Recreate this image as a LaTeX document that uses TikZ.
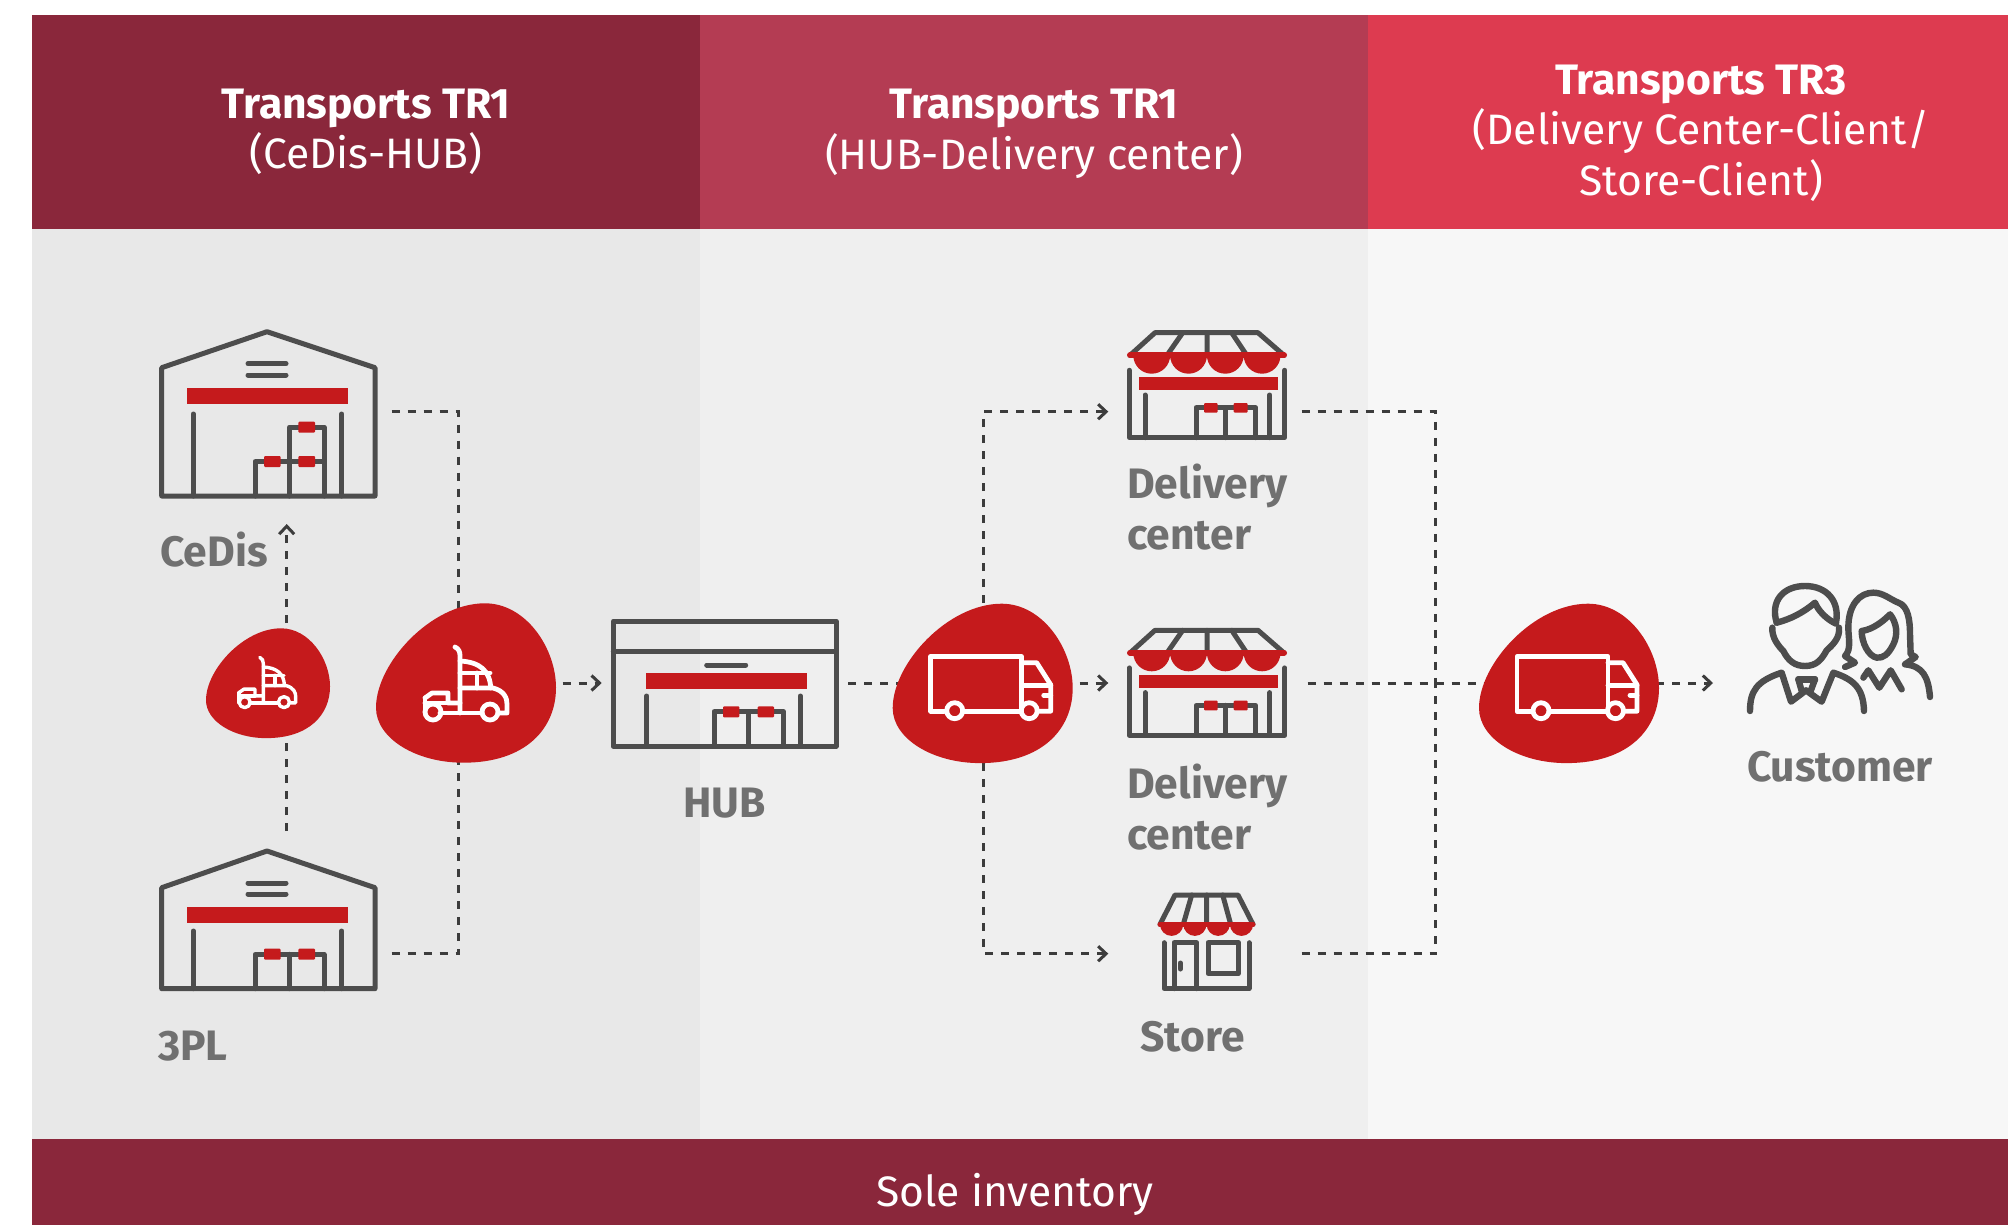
\documentclass[tikz,border=0pt]{standalone}
\usepackage{fontspec}
\setmainfont{Fira Sans}
\definecolor{hA}{HTML}{8A273B}
\definecolor{hB}{HTML}{B43C53}
\definecolor{hC}{HTML}{DD3B50}
\definecolor{bgA}{HTML}{E8E8E8}
\definecolor{bgB}{HTML}{EFEFEF}
\definecolor{bgC}{HTML}{F7F7F7}
\definecolor{redx}{HTML}{C51A1C}
\definecolor{icon}{HTML}{4D4D4D}
\definecolor{lab}{HTML}{707070}
\definecolor{dashc}{HTML}{3C3C3C}
\usetikzlibrary{arrows.meta}
\def\wlw{4.8pt}
\tikzset{
  x=1pt,y=-1pt,
  ic/.style={draw=icon,line width=5pt,line join=round,line cap=round},
  tab/.style={fill=redx,draw=none,rounded corners=1pt},
  wl/.style={draw=white,line width=\wlw,line join=round,line cap=round},
  dl/.style={draw=dashc,line width=3pt,dash pattern=on 8pt off 8pt},
  da/.style={dl,-{Straight Barb[length=8pt,width=15pt,line width=3pt]}},
  hd/.style={text=white,align=center,font=\fontsize{42.6}{50.5}\selectfont,inner sep=0pt},
  lb/.style={text=lab,font=\fontsize{42.6}{51}\selectfont\bfseries,inner sep=0pt,align=left},
}
\newcommand{\blobshape}{%
  (109,0) .. controls (150,0) and (180,45) .. (180,84.4)
  .. controls (180,125) and (150,159.4) .. (87.3,159.4)
  .. controls (40,159.4) and (0,135) .. (0,104.4)
  .. controls (0,60) and (55,0) .. (109,0) -- cycle}
\tikzset{
 truckpic/.pic={
  \draw[wl] (-5,-14) .. controls (-1,-12) and (0,-9) .. (0,-5) -- (0,52);
  \draw[wl] (0,0) .. controls (20,1) and (30,10) .. (30.7,27);
  \draw[wl] (0,12) -- (30,12);
  \draw[wl] (17,12) -- (17,27);
  \draw[wl] (0,27) -- (33,27) .. controls (45,30) and (47,38) .. (47,43) -- (47,52) -- (38,52);
  \draw[wl] (-35,37) -- (-28,32) -- (-12,32) -- (-12,42) -- (0,42);
  \draw[wl] (-35,52) -- (-35,37) (-35,42) -- (-12,42);
  \draw[wl] (-20,52) -- (22,52);
  \draw[wl] (30,51) circle (8);
  \draw[wl] (-27,51) circle (8);
 },
 vanpic/.pic={
  \draw[wl] (13.5,54.5) -- (0,54.5) -- (0,0) -- (91,0) -- (91,53);
  \draw[wl] (91,6) -- (106,6) -- (120,28) -- (120,54.5) -- (108,54.5);
  \draw[wl] (91,28.5) -- (120,28.5);
  \draw[wl] (113,38.5) -- (120,38.5);
  \draw[wl] (32,54.5) -- (89,54.5);
  \draw[wl] (24,54) circle (8);
  \draw[wl] (98.5,54) circle (8);
 },
 shoppic/.pic={
  \draw[ic] (1130,354.3) -- (1155,331.7) -- (1258,331.7) -- (1284,354.3);
  \draw[ic] (1167,354.3) -- (1182.7,331.7) (1207,354.3) -- (1207,331.7) (1246.7,354.3) -- (1231.7,331.7);
  \fill[redx] (1133.3,354.3) arc[start angle=180,end angle=0,radius=18.4] -- cycle;
  \fill[redx] (1170.1,354.3) arc[start angle=180,end angle=0,radius=18.4] -- cycle;
  \fill[redx] (1206.9,354.3) arc[start angle=180,end angle=0,radius=18.4] -- cycle;
  \fill[redx] (1243.7,354.3) arc[start angle=180,end angle=0,radius=18.4] -- cycle;
  \draw[redx,line width=6pt,line cap=round] (1130,354.3) -- (1284,354.3);
  \draw[ic] (1129.3,369.3) -- (1129.3,436.7) -- (1284.7,436.7) -- (1284.7,369.3);
  \draw[ic] (1145,394) -- (1145,436.7) (1269.7,394) -- (1269.7,436.7);
  \draw[ic] (1196,436.7) -- (1196,406.7) -- (1255.7,406.7) -- (1255.7,436.7);
  \draw[ic] (1225.7,406.7) -- (1225.7,436.7);
  \fill[redx] (1138.7,376.3) rectangle (1278.3,389.3);
  \fill[tab] (1204,402) rectangle (1217.7,411.7);
  \fill[tab] (1233.7,402) rectangle (1247.7,411.7);
 },
}
\begin{document}
\begin{tikzpicture}
\useasboundingbox (0,-1) rectangle (2008,1224);
% bands
\fill[white] (0,-1) rectangle (2008,1224);
\fill[bgA] (32,228) rectangle (700,1138);
\fill[bgB] (700,228) rectangle (1368,1138);
\fill[bgC] (1368,228) rectangle (2008,1138);
\fill[hA] (32,14) rectangle (700,228);
\fill[hB] (700,14) rectangle (1368,228);
\fill[hC] (1368,14) rectangle (2008,228);
\fill[hA] (32,1138) rectangle (2008,1224);
% header text
\node[hd] (h1) at (366,131) {\textbf{Transports TR1}\\(CeDis-HUB)};
\node[hd] (h2) at (1034,133) {\textbf{Transports TR1}\\(HUB-Delivery center)};
\node[hd] (h3) at (1701,132) {\textbf{Transports TR3}\\(Delivery Center-Client/\\Store-Client)};
\node[hd] (f1) at (1015,1193) {Sole inventory};
% connector ports
\coordinate (cedisOut) at (391.7,410.7);
\coordinate (tplOut) at (391.7,952.7);
\coordinate (tplTop) at (286.7,830);
\coordinate (cedisIn) at (286.7,523);
\coordinate (railL) at (458.7,682);
\coordinate (blobLout) at (562.7,682);
\coordinate (hubIn) at (601.7,682);
\coordinate (hubOut) at (848,682);
\coordinate (blobMc) at (983.7,682);
\coordinate (railM1) at (983.7,410.7);
\coordinate (railM3) at (983.7,952.7);
\coordinate (dc1In) at (1108.3,410.7);
\coordinate (dc2In) at (1108.3,682);
\coordinate (storeIn) at (1108.3,952.7);
\coordinate (dc1Out) at (1301.7,410.7);
\coordinate (dc2Out) at (1307.5,682);
\coordinate (storeOut) at (1301.7,952.7);
\coordinate (railR) at (1435.6,682);
\coordinate (blobRc) at (1560,682);
\coordinate (custIn) at (1713,682);
% connectors
\draw[dl] (cedisOut) -| (railL);
\draw[dl] (tplOut) -| (railL);
\draw[da] (tplTop) -- (cedisIn);
\draw[da] (blobLout) -- (hubIn);
\draw[dl] (hubOut) -- (blobMc);
\draw[da] (blobMc) -- (railM1) -- (dc1In);
\draw[da] (blobMc) -- (dc2In);
\draw[da] (blobMc) -- (railM3) -- (storeIn);
\draw[dl] (dc1Out) -| (railR);
\draw[dl] (storeOut) -| (railR);
\draw[dl] (dc2Out) -- (blobRc);
\draw[da] (blobRc) -- (custIn);
% blobs
\node[inner sep=0pt,minimum width=124pt,minimum height=109.4pt] (blobS) at (268,682) {};
\fill[redx,shift={(206,627.3)},scale=0.689] \blobshape;
\node[inner sep=0pt,minimum width=180pt,minimum height=159.4pt] (blobL) at (466,682) {};
\fill[redx,shift={(376,602.3)}] \blobshape;
\node[inner sep=0pt,minimum width=180pt,minimum height=159.4pt] (blobM) at (982.7,682) {};
\fill[redx,shift={(892.7,602.7)}] \blobshape;
\node[inner sep=0pt,minimum width=180pt,minimum height=159.4pt] (blobR) at (1569,682) {};
\fill[redx,shift={(1479,602.7)}] \blobshape;
% trucks and vans
\pic at (460,660) {truckpic};
\begin{scope}
\def\wlw{3.4pt}
\pic[scale=0.689,transform shape] at (263.3,666) {truckpic};
\end{scope}
\pic at (930.7,655.7) {vanpic};
\pic at (1517,655.7) {vanpic};
% CeDis
\node[inner sep=0pt,minimum width=214pt,minimum height=165pt] (cedis) at (268.5,413) {};
\draw[ic] (161.7,495) -- (161.7,366.7) -- (267,330.7) -- (375,366.7) -- (375,495) -- cycle;
\draw[ic] (248,362.7) -- (286,362.7) (248,374) -- (286,374);
\draw[ic] (193.3,413) -- (193.3,495) (341.7,413) -- (341.7,495);
\draw[ic] (255,495) -- (255,460.7) -- (324,460.7) -- (324,495);
\draw[ic] (289.3,495) -- (289.3,426) -- (324,426) -- (324,460.7);
\fill[redx] (187,387.3) rectangle (347.7,403.3);
\fill[tab] (264,455) rectangle (280.7,466);
\fill[tab] (298.3,455) rectangle (315,466);
\fill[tab] (298.3,420.7) rectangle (315,431.7);
\node[lb,anchor=base west] (lCedis) at (160,565) {CeDis};
% 3PL
\node[inner sep=0pt,minimum width=214pt,minimum height=138pt] (tpl) at (268,919) {};
\draw[ic] (161.7,987.7) -- (161.7,886.7) -- (267,850) -- (375,886.7) -- (375,987.7) -- cycle;
\draw[ic] (248,882) -- (286,882) (248,893) -- (286,893);
\draw[ic] (193.3,930) -- (193.3,987.7) (341.7,930) -- (341.7,987.7);
\draw[ic] (255,987.7) -- (255,953.3) -- (324,953.3) -- (324,987.7);
\draw[ic] (289.3,953.3) -- (289.3,987.7);
\fill[redx] (187,906) rectangle (347.7,922.3);
\fill[tab] (264,947.7) rectangle (280.7,958.7);
\fill[tab] (298.3,947.7) rectangle (315,958.7);
\node[lb,anchor=base west] (lTpl) at (158,1059) {3PL};
% HUB
\node[inner sep=0pt,minimum width=223pt,minimum height=125pt] (hub) at (724.7,682.7) {};
\draw[ic] (613.3,620) rectangle (836,745.3);
\draw[ic] (613.3,650.7) -- (836,650.7);
\draw[ic] (706.7,664) -- (745.7,664);
\draw[ic] (646.7,695) -- (646.7,745.3) (800.3,695) -- (800.3,745.3);
\draw[ic] (714,745.3) -- (714,710.7) -- (783.3,710.7) -- (783.3,745.3);
\draw[ic] (748.3,710.7) -- (748.3,745.3);
\fill[redx] (646,672) rectangle (806.7,687.7);
\fill[tab] (723,705.3) rectangle (739.3,716.3);
\fill[tab] (757.7,705.3) rectangle (774,716.3);
\node[lb,anchor=base] (lHub) at (724.7,816) {HUB};
% shops
\node[inner sep=0pt,minimum width=158pt,minimum height=110pt] (dc1) at (1207,384) {};
\pic at (0,0) {shoppic};
\node[lb,anchor=base west] (lDc1) at (1127,548) {Delivery\\center};
\node[inner sep=0pt,minimum width=158pt,minimum height=110pt] (dc2) at (1207,681) {};
\pic at (0,297.6) {shoppic};
\node[lb,anchor=base west] (lDc2) at (1127,848) {Delivery\\center};
% small store
\node[inner sep=0pt,minimum width=97pt,minimum height=94pt] (store) at (1206.5,941) {};
\draw[ic] (1160,923.3) -- (1175,894) -- (1238,894) -- (1253,923.3);
\draw[ic] (1183.3,923.3) -- (1191.7,894) (1206.7,923.3) -- (1206.7,894) (1230.7,923.3) -- (1222.7,894);
\fill[redx] (1160,923.3) arc[start angle=180,end angle=0,radius=11.6] -- cycle;
\fill[redx] (1183.3,923.3) arc[start angle=180,end angle=0,radius=11.6] -- cycle;
\fill[redx] (1206.6,923.3) arc[start angle=180,end angle=0,radius=11.6] -- cycle;
\fill[redx] (1229.9,923.3) arc[start angle=180,end angle=0,radius=11.6] -- cycle;
\draw[redx,line width=5pt,line cap=round] (1160,923.3) -- (1253,923.3);
\draw[ic] (1164,941.7) -- (1164,987.7) -- (1249,987.7) -- (1249,941.7);
\draw[ic] (1174,987.7) -- (1174,941.7) -- (1196.7,941.7) -- (1196.7,987.7);
\draw[ic] (1180.3,962) -- (1180.3,968);
\draw[ic] (1208,941.7) rectangle (1238.3,972.7);
\node[lb,anchor=base] (lStore) at (1192.5,1050) {Store};
% customer
\begin{scope}[shift={(1720,570)},scale=1/3,ic/.append style={line width=6.4pt}]
\node[inner sep=0pt,minimum width=186pt,minimum height=128pt] (cust) at (360,230) {};
\draw[ic] (170,155) .. controls (150,90) and (190,45) .. (255,45) .. controls (320,45) and (360,90) .. (348,155);
\draw[ic] (170,155) .. controls (210,145) and (250,125) .. (285,95) .. controls (295,120) and (320,145) .. (348,158);
\draw[ic] (157,170) .. controls (155,200) and (175,225) .. (190,240) .. controls (205,270) and (225,285) .. (255,285) .. controls (290,285) and (305,265) .. (320,238) .. controls (340,220) and (360,200) .. (357,170);
\draw[ic] (90,420) .. controls (90,360) and (110,330) .. (185,305) -- (213,392) -- (258,358) -- (305,392) -- (340,305) .. controls (400,325) and (430,350) .. (432,420);
\draw[ic] (235,325) -- (285,325);
\draw[ic] (235,325) -- (245,360) (285,325) -- (272,360);
\draw[ic] (375,288) -- (405,275) -- (375,255) .. controls (395,235) and (385,200) .. (385,170) .. controls (385,100) and (420,65) .. (460,65) .. controls (490,65) and (510,85) .. (535,95) .. controls (565,105) and (570,150) .. (570,190) -- (572,250) -- (587,258) -- (555,280) .. controls (610,285) and (625,320) .. (630,378);
\draw[ic] (425,180) .. controls (460,175) and (490,150) .. (510,130) .. controls (530,155) and (535,190) .. (520,220) .. controls (505,250) and (490,262) .. (470,260) .. controls (445,255) and (425,215) .. (425,180) -- cycle;
\draw[ic] (430,320) -- (445,298) -- (478,350) -- (512,298) -- (545,355);
\end{scope}
\node[lb,anchor=base] (lCust) at (1840,780) {Customer};
\end{tikzpicture}
\end{document}
